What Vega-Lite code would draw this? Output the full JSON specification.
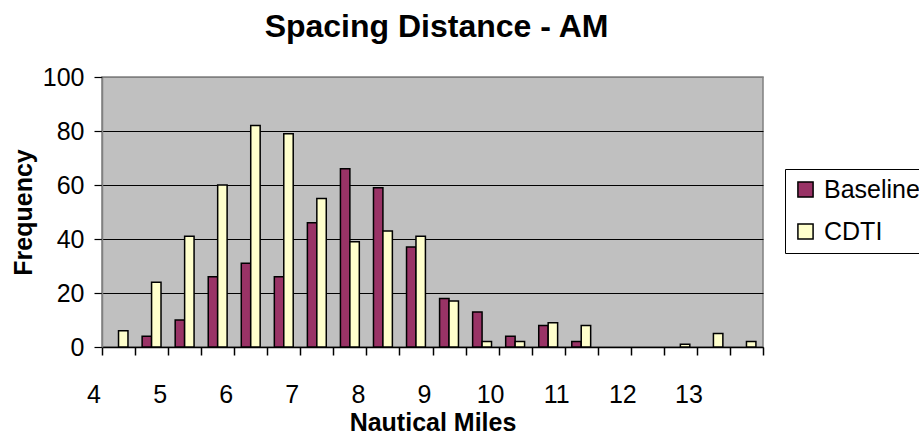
{
  "$schema": "https://vega.github.io/schema/vega-lite/v6.json",
  "width": 661,
  "height": 270,
  "autosize": {"type": "none"},
  "padding": {"left": 102, "top": 77, "right": 156, "bottom": 91},
  "background": "white",
  "title": {"text": "Spacing Distance - AM", "font": "Liberation Sans", "fontSize": 32, "fontWeight": "bold", "color": "black", "anchor": "middle", "offset": 21, "dx": 4},
  "config": {
    "font": "Liberation Sans",
    "view": {"fill": "#C0C0C0", "stroke": "#808080", "strokeWidth": 1.5}
  },
  "data": {
    "values": [
      {"nm": 4, "series": "Baseline", "frequency": 0}, {"nm": 4, "series": "CDTI", "frequency": 6},
      {"nm": 4.5, "series": "Baseline", "frequency": 4}, {"nm": 4.5, "series": "CDTI", "frequency": 24},
      {"nm": 5, "series": "Baseline", "frequency": 10}, {"nm": 5, "series": "CDTI", "frequency": 41},
      {"nm": 5.5, "series": "Baseline", "frequency": 26}, {"nm": 5.5, "series": "CDTI", "frequency": 60},
      {"nm": 6, "series": "Baseline", "frequency": 31}, {"nm": 6, "series": "CDTI", "frequency": 82},
      {"nm": 6.5, "series": "Baseline", "frequency": 26}, {"nm": 6.5, "series": "CDTI", "frequency": 79},
      {"nm": 7, "series": "Baseline", "frequency": 46}, {"nm": 7, "series": "CDTI", "frequency": 55},
      {"nm": 7.5, "series": "Baseline", "frequency": 66}, {"nm": 7.5, "series": "CDTI", "frequency": 39},
      {"nm": 8, "series": "Baseline", "frequency": 59}, {"nm": 8, "series": "CDTI", "frequency": 43},
      {"nm": 8.5, "series": "Baseline", "frequency": 37}, {"nm": 8.5, "series": "CDTI", "frequency": 41},
      {"nm": 9, "series": "Baseline", "frequency": 18}, {"nm": 9, "series": "CDTI", "frequency": 17},
      {"nm": 9.5, "series": "Baseline", "frequency": 13}, {"nm": 9.5, "series": "CDTI", "frequency": 2},
      {"nm": 10, "series": "Baseline", "frequency": 4}, {"nm": 10, "series": "CDTI", "frequency": 2},
      {"nm": 10.5, "series": "Baseline", "frequency": 8}, {"nm": 10.5, "series": "CDTI", "frequency": 9},
      {"nm": 11, "series": "Baseline", "frequency": 2}, {"nm": 11, "series": "CDTI", "frequency": 8},
      {"nm": 11.5, "series": "Baseline", "frequency": 0}, {"nm": 11.5, "series": "CDTI", "frequency": 0},
      {"nm": 12, "series": "Baseline", "frequency": 0}, {"nm": 12, "series": "CDTI", "frequency": 0},
      {"nm": 12.5, "series": "Baseline", "frequency": 0}, {"nm": 12.5, "series": "CDTI", "frequency": 1},
      {"nm": 13, "series": "Baseline", "frequency": 0}, {"nm": 13, "series": "CDTI", "frequency": 5},
      {"nm": 13.5, "series": "Baseline", "frequency": 0}, {"nm": 13.5, "series": "CDTI", "frequency": 2}
    ]
  },
  "mark": {"type": "bar", "stroke": "black", "strokeWidth": 1.5},
  "encoding": {
    "x": {
      "field": "nm", "type": "ordinal", "sort": "ascending",
      "scale": {"paddingInner": 0, "paddingOuter": 0},
      "axis": {
        "title": "Nautical Miles", "titleFontSize": 25, "titleFontWeight": "bold", "titleColor": "black",
        "titleBaseline": "alphabetic", "titleY": 83,
        "labelExpr": "datum.value % 1 === 0 ? datum.label : ''",
        "labelAngle": 0, "labelFontSize": 25, "labelColor": "black", "labelOffset": -25,
        "labelOverlap": false, "labelPadding": 27, "labelFont": "Liberation Sans",
        "tickBand": "extent", "tickSize": 8, "tickColor": "black", "tickWidth": 1.5,
        "domainColor": "black", "domainWidth": 1.5, "grid": false
      }
    },
    "xOffset": {"field": "series", "type": "nominal", "sort": ["Baseline", "CDTI"], "scale": {"paddingInner": 0, "paddingOuter": 0.75}},
    "y": {
      "field": "frequency", "type": "quantitative",
      "scale": {"domain": [0, 100]},
      "axis": {
        "title": "Frequency", "titleFontSize": 25, "titleFontWeight": "bold", "titleColor": "black",
        "titleBaseline": "alphabetic", "titleX": -71,
        "values": [0, 20, 40, 60, 80, 100],
        "grid": true, "gridColor": {"condition": {"test": "datum.value === 100", "value": "#808080"}, "value": "black"}, "gridWidth": 1.2, "gridOpacity": 1,
        "domainColor": "#808080", "domainWidth": 1.5,
        "tickColor": "black", "tickSize": 8, "tickWidth": 1.2,
        "labelFontSize": 25, "labelPadding": 10, "labelColor": "black"
      }
    },
    "opacity": {"condition": {"test": "datum.frequency === 0", "value": 0}, "value": 1},
    "color": {
      "field": "series", "type": "nominal",
      "scale": {"domain": ["Baseline", "CDTI"], "range": ["#993366", "#FFFFCC"]},
      "legend": {
        "orient": "none", "legendX": 683, "legendY": 92, "title": null,
        "symbolType": "square", "symbolSize": 230, "symbolStrokeColor": "black", "symbolStrokeWidth": 1.5, "symbolOpacity": 1,
        "labelFontSize": 25, "labelColor": "black", "labelOffset": 6,
        "strokeColor": "black", "fillColor": "white", "padding": 8, "rowPadding": 16
      }
    }
  }
}
